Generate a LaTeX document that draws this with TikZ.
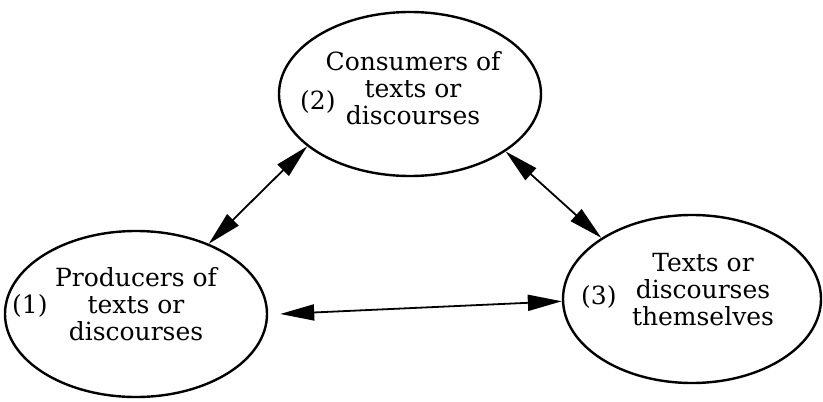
\documentclass[tikz,border=0pt]{standalone}
\usepackage{fontspec}
\setmainfont{DejaVu Serif}
\usetikzlibrary{shapes.geometric,arrows.meta,calc}
\tikzset{
	party/.style = {draw, ellipse, line width = 1.2pt, inner sep = 0pt},
	words/.style = {inner sep = 0pt, align = center, font = \fontsize{12.5}{13.5}\selectfont},
	number/.style = {anchor = west, inner sep = 0pt, font = \fontsize{12.5}{13.5}\selectfont},
	link/.style = {line width = 0.9pt,
		{Triangle[length = 17pt, width = 8pt]}-{Triangle[length = 17pt, width = 8pt]}}
}

\begin{document}
\begin{tikzpicture}[x = 0.5pt, y = -0.5pt]
	\useasboundingbox (0,0) rectangle (823,401);
	
	% ellipses
	\node[party, minimum width = 131pt, minimum height = 82pt] (cons) at (410,94) {};
	\node[party, minimum width = 131pt, minimum height = 83pt] (prod) at (136,314) {};
	\node[party, minimum width = 129pt, minimum height = 84pt] (texts) at (692,299) {};
	
	% texts
	\node[words] (cons-t) at ($(cons) + (3,-6)$) {Consumers of\\texts or\\discourses};
	\node[words] (prod-t) at ($(prod) + (0,-10)$) {Producers of\\texts or\\discourses};
	\node[words] (texts-t) at ($(texts) + (11,-9)$) {Texts or\\discourses\\themselves};
	
	% numbers
	\node[number] (n1) at ($(prod.west) + (8,-8)$) {(1)};
	\node[number] (n2) at ($(cons.west) + (22,8)$) {(2)};
	\node[number] (n3) at ($(texts.west) + (19,-2)$) {(3)};
	
	% links
	\draw[link] (cons.207) -- (prod.44);
	\draw[link] (cons.329.5) -- (texts.146);
	\draw[link] ([xshift = 6pt]prod.east) -- (texts.181);
	
\end{tikzpicture}
\end{document}
